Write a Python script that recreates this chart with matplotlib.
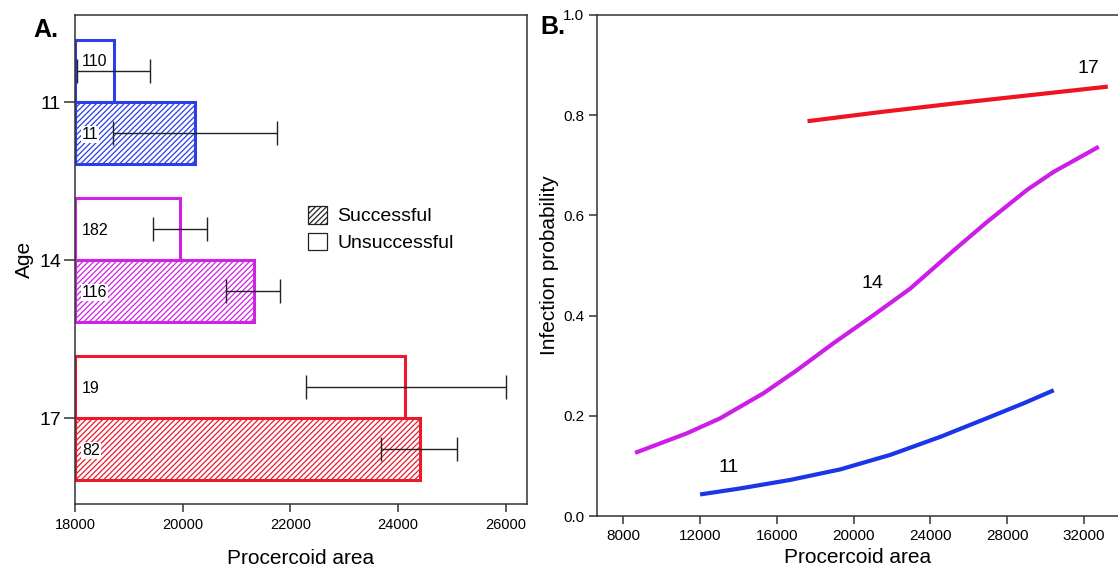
"""Procercoid area by host age: bar summary (A) and fitted infection probability curves (B)."""

import numpy as np
import matplotlib
matplotlib.use("Agg")
import matplotlib.pyplot as plt
from matplotlib.patches import Patch

plt.rcParams['font.family'] = ['Liberation Sans', 'DejaVu Sans']
plt.rcParams['hatch.linewidth'] = 0.9

# Panel A data: mean procercoid area per age and outcome
ages = ['11', '14', '17']
age_colors = ['#2a3fe6', '#cf22e4', '#ea1a2c']

unsucc_area = [18730, 19960, 24140]
succ_area = [20235, 21325, 24410]
unsucc_n = [110, 182, 19]
succ_n = [11, 116, 82]

# interval end points for each bar
unsucc_lo = [18040, 19455, 22290]
unsucc_hi = [19390, 20460, 26000]
succ_lo = [18700, 20805, 23690]
succ_hi = [21760, 21810, 25090]

# Panel B data: fitted infection probability against procercoid area
area_11 = [12000, 14086, 16695, 19303, 21911, 24520, 27128, 28865, 30431]
prob_11 = [0.043, 0.055, 0.072, 0.093, 0.122, 0.158, 0.198, 0.225, 0.251]
area_14 = [8610, 11307, 13044, 15303, 17045, 18955, 21041, 22956, 25214,
           26957, 29043, 30431, 32779]
prob_14 = [0.126, 0.165, 0.195, 0.245, 0.291, 0.345, 0.401, 0.454, 0.530,
           0.587, 0.651, 0.687, 0.737]
area_17 = [17598, 21563, 25392, 33248]
prob_17 = [0.788, 0.807, 0.824, 0.857]

base = 18000
bar_h = 0.39
spine_col = '#333333'

fig = plt.figure(figsize=(11.18, 5.72), dpi=100)

# ---- Panel A ----
axA = fig.add_axes([0.0671, 0.1189, 0.4043, 0.8549])
pos = np.arange(len(ages))
for i in range(len(ages)):
    yu = pos[i] - bar_h / 2
    ys = pos[i] + bar_h / 2
    axA.barh(yu, unsucc_area[i] - base, height=bar_h, left=base,
             facecolor='white', edgecolor=age_colors[i], linewidth=2.2, zorder=2)
    axA.barh(ys, succ_area[i] - base, height=bar_h, left=base,
             facecolor='white', edgecolor=age_colors[i], hatch='//////',
             linewidth=2.2, zorder=2)
    for y, lo, hi in [(yu, unsucc_lo[i], unsucc_hi[i]), (ys, succ_lo[i], succ_hi[i])]:
        axA.errorbar((lo + hi) / 2, y, xerr=(hi - lo) / 2, fmt='none',
                     ecolor='#222222', elinewidth=1.0, capsize=8.5, capthick=1.0, zorder=4)
    dy = -0.06 if i == 0 else 0.01
    axA.text(base + 130, yu + dy, str(unsucc_n[i]), ha='left', va='center', fontsize=11.5,
             zorder=5, bbox=dict(facecolor='white', edgecolor='none', pad=0.6))
    axA.text(base + 130, ys + 0.01, str(succ_n[i]), ha='left', va='center', fontsize=11.5,
             zorder=5, bbox=dict(facecolor='white', edgecolor='none', pad=0.6))

axA.set_xlim(base, 26400)
axA.set_ylim(2.544, -0.551)
axA.set_xticks([18000, 20000, 22000, 24000, 26000])
axA.set_yticks(pos)
axA.set_yticklabels(ages)
axA.tick_params(axis='x', labelsize=10.5, length=6, width=1.1, color=spine_col, pad=4)
axA.tick_params(axis='y', labelsize=14, length=8, width=1.1, color=spine_col, pad=2)
for s in axA.spines.values():
    s.set_color(spine_col)
    s.set_linewidth(1.1)
axA.set_xlabel('Procercoid area', fontsize=15, labelpad=12)
axA.set_ylabel('Age', fontsize=15, labelpad=4)

handles = [Patch(facecolor='white', edgecolor='#222222', hatch='//////', linewidth=0.9),
           Patch(facecolor='white', edgecolor='#222222', linewidth=0.9)]
axA.legend(handles, ['Successful', 'Unsuccessful'], loc='upper left',
           bbox_to_anchor=(0.485, 0.637), frameon=False, fontsize=14,
           handlelength=1.0, handleheight=1.0, handletextpad=0.5,
           labelspacing=0.38, borderpad=0.2)

fig.text(0.0295, 0.948, 'A.', fontsize=18, fontweight='bold', ha='left', va='center')

# ---- Panel B ----
axB = fig.add_axes([0.5337, 0.0979, 0.4663, 0.8759])
axB.plot(area_11, prob_11, color='#1a36e8', linewidth=3.0, solid_capstyle='butt')
axB.plot(area_14, prob_14, color='#cc1ee6', linewidth=3.0, solid_capstyle='butt')
axB.plot(area_17, prob_17, color='#f01420', linewidth=3.0, solid_capstyle='butt')
axB.text(13477, 0.097, '11', fontsize=14, ha='center', va='center')
axB.text(20957, 0.464, '14', fontsize=14, ha='center', va='center')
axB.text(32256, 0.894, '17', fontsize=14, ha='center', va='center')

axB.set_xlim(6610, 33780)
axB.set_ylim(0, 1.0)
axB.set_xticks([8000, 12000, 16000, 20000, 24000, 28000, 32000])
axB.set_yticks([0.0, 0.2, 0.4, 0.6, 0.8, 1.0])
axB.set_yticklabels(['0.0', '0.2', '0.4', '0.6', '0.8', '1.0'])
axB.tick_params(labelsize=11, length=6, width=1.1, color=spine_col, pad=3)
axB.spines['right'].set_visible(False)
for s in ['left', 'bottom', 'top']:
    axB.spines[s].set_color(spine_col)
    axB.spines[s].set_linewidth(1.1)
axB.set_xlabel('Procercoid area', fontsize=15, labelpad=4)
axB.set_ylabel('Infection probability', fontsize=15, labelpad=3)

fig.text(0.483, 0.952, 'B.', fontsize=18, fontweight='bold', ha='left', va='center')

fig.savefig('out.png', dpi=100)
